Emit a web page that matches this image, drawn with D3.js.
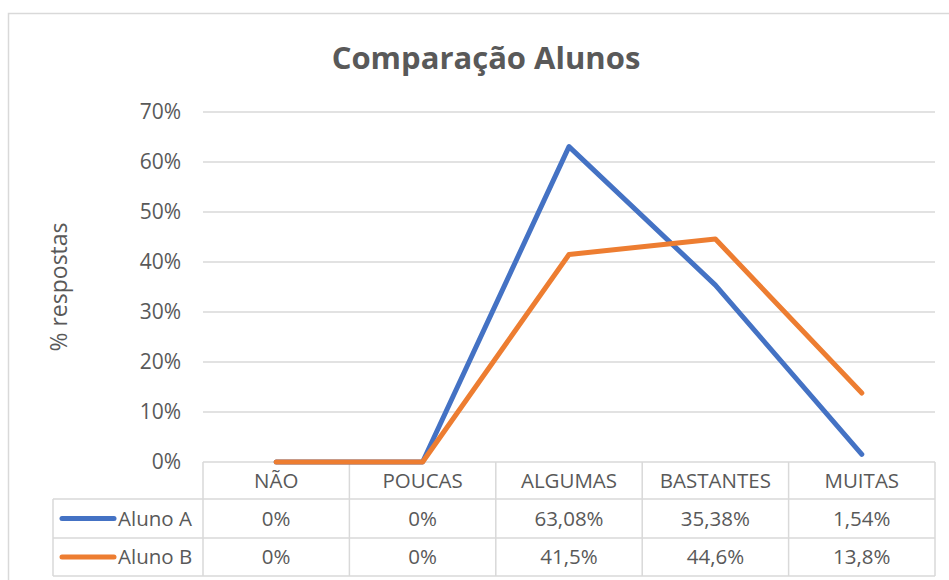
<!DOCTYPE html>
<html>
<head>
<meta charset="utf-8">
<script src="https://cdn.jsdelivr.net/npm/d3@7"></script>
<style>
  html, body { margin: 0; padding: 0; background: #fff; }
  svg { display: block; font-family: "Open Sans", sans-serif; }
</style>
</head>
<body>
<svg id="chart" width="949" height="580"></svg>
<script>
const categories = ["NÃO", "POUCAS", "ALGUMAS", "BASTANTES", "MUITAS"];
const seriesNames = ["Aluno A", "Aluno B"];
const alunoA = [0, 0, 63.08, 35.38, 1.54];
const alunoB = [0, 0, 41.5, 44.6, 13.8];
const tableA = ["0%", "0%", "63,08%", "35,38%", "1,54%"];
const tableB = ["0%", "0%", "41,5%", "44,6%", "13,8%"];
const yTicks = [0, 10, 20, 30, 40, 50, 60, 70];
const colors = ["#4472C4", "#ED7D31"];
const title = "Comparação Alunos";
const yTitle = "% respostas";

const svg = d3.select("#chart");
const textColor = "#595959";
const gridColor = "#d9d9d9";

// chart border
svg.append("rect")
  .attr("x", 8.5).attr("y", 13.5)
  .attr("width", 1000).attr("height", 600)
  .attr("fill", "none").attr("stroke", gridColor).attr("stroke-width", 1.5);

const plot = { left: 203, right: 935, top: 112, bottom: 462 };
const x = d3.scaleBand().domain(categories).range([plot.left, plot.right]).padding(0);
const y = d3.scaleLinear().domain([0, 70]).range([plot.bottom, plot.top]);
const cx = d => x(d) + x.bandwidth() / 2;

// title
svg.append("text")
  .attr("x", 486).attr("y", 69)
  .attr("text-anchor", "middle")
  .attr("font-size", 31).attr("font-weight", "bold")
  .attr("fill", textColor)
  .text(title);

// gridlines
svg.append("g").selectAll("line").data(yTicks.filter(t => t > 0)).join("line")
  .attr("x1", plot.left).attr("x2", plot.right)
  .attr("y1", d => y(d)).attr("y2", d => y(d))
  .attr("stroke", gridColor).attr("stroke-width", 1.5);

// y axis labels
const yAxis = d3.axisLeft(y).tickValues(yTicks).tickFormat(d => d + "%").tickSize(0).tickPadding(0);
const ga = svg.append("g").attr("transform", `translate(181,0)`).call(yAxis);
ga.select(".domain").remove();
ga.selectAll("text").attr("font-size", 21).attr("fill", textColor).attr("font-family", "Open Sans, sans-serif");

// y title
svg.append("text")
  .attr("transform", "translate(67,287) rotate(-90)")
  .attr("text-anchor", "middle")
  .attr("font-size", 23).attr("fill", textColor)
  .text(yTitle);

// data table grid
const rowY = [462, 499, 538, 576];
const tbl = svg.append("g").attr("stroke", gridColor).attr("stroke-width", 1.5);
tbl.append("line").attr("x1", plot.left).attr("x2", plot.right).attr("y1", rowY[0]).attr("y2", rowY[0]);
[rowY[1], rowY[2], rowY[3]].forEach(yy => {
  tbl.append("line").attr("x1", 53).attr("x2", plot.right).attr("y1", yy).attr("y2", yy);
});
const colEdges = categories.map(c => x(c)).concat([plot.right]);
colEdges.forEach(xx => {
  tbl.append("line").attr("x1", xx).attr("x2", xx).attr("y1", rowY[0]).attr("y2", rowY[3]);
});
tbl.append("line").attr("x1", 53).attr("x2", 53).attr("y1", rowY[1]).attr("y2", rowY[3]);

// header texts
svg.append("g").selectAll("text").data(categories).join("text")
  .attr("x", d => cx(d)).attr("y", 481)
  .attr("dy", "0.35em")
  .attr("text-anchor", "middle").attr("font-size", 20.5).attr("fill", textColor)
  .text(d => d);

// table values
[tableA, tableB].forEach((vals, i) => {
  const yy = (rowY[i + 1] + rowY[i + 2]) / 2;
  svg.append("g").selectAll("text").data(vals).join("text")
    .attr("x", (d, j) => cx(categories[j])).attr("y", yy)
    .attr("dy", "0.35em")
    .attr("text-anchor", "middle").attr("font-size", 20.5).attr("fill", textColor)
    .text(d => d);
  svg.append("line")
    .attr("x1", 62).attr("x2", 114).attr("y1", yy).attr("y2", yy)
    .attr("stroke", colors[i]).attr("stroke-width", 5).attr("stroke-linecap", "round");
  svg.append("text")
    .attr("x", 118).attr("y", yy).attr("dy", "0.35em")
    .attr("font-size", 20.5).attr("fill", textColor)
    .text(seriesNames[i]);
});

// lines
const line = d3.line().x((d, i) => cx(categories[i])).y(d => y(d));
[alunoA, alunoB].forEach((s, i) => {
  svg.append("path")
    .datum(s)
    .attr("d", line)
    .attr("fill", "none")
    .attr("stroke", colors[i])
    .attr("stroke-width", 5)
    .attr("stroke-linejoin", "round")
    .attr("stroke-linecap", "round");
});
</script>
</body>
</html>
